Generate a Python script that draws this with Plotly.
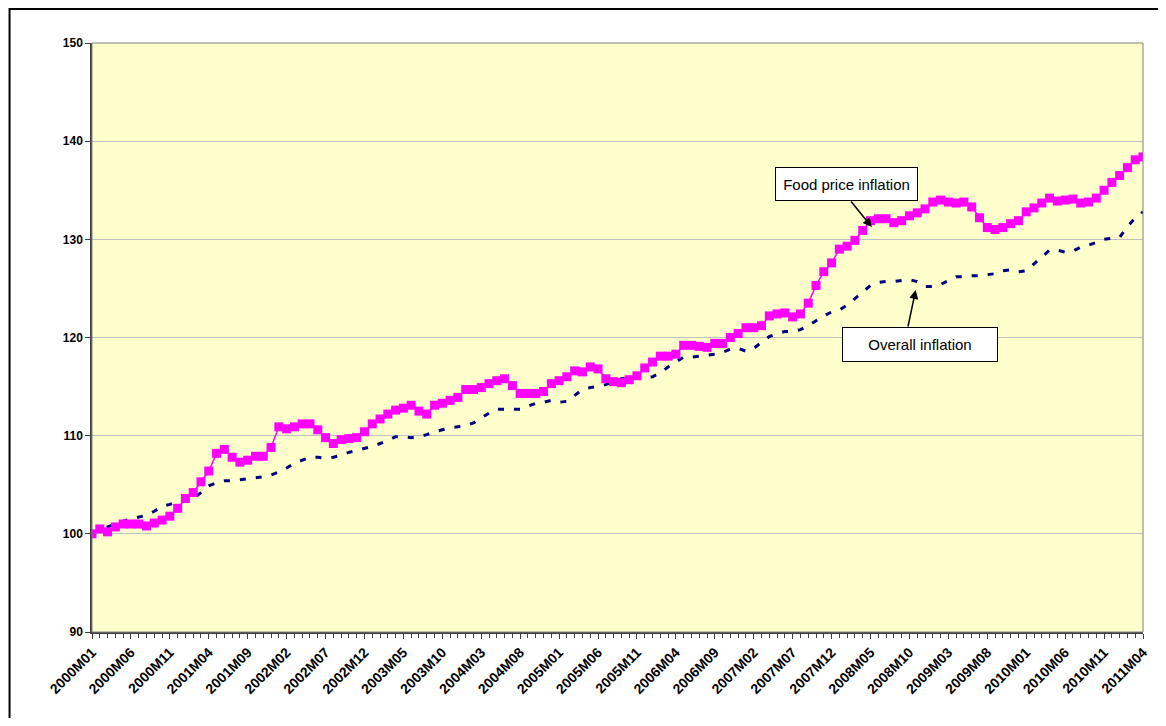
import plotly.graph_objects as go

# Monthly index, 2000M01 = 100 ... 2011M04
months = []
for yr in range(2000, 2012):
    for m in range(1, 13):
        months.append(f"{yr}M{m:02d}")
months = months[:136]

food = [100.0, 100.5, 100.2, 100.7, 101.0, 101.0, 101.0, 100.8, 101.1, 101.4,
        101.8, 102.6, 103.6, 104.2, 105.3, 106.4, 108.2, 108.6, 107.8, 107.3,
        107.5, 107.9, 107.9, 108.8, 110.9, 110.7, 110.9, 111.2, 111.2, 110.6,
        109.8, 109.2, 109.6, 109.7, 109.8, 110.4, 111.2, 111.7, 112.2, 112.6,
        112.8, 113.1, 112.5, 112.2, 113.1, 113.3, 113.6, 113.9, 114.7, 114.7,
        114.9, 115.3, 115.6, 115.8, 115.1, 114.3, 114.3, 114.3, 114.5, 115.3,
        115.6, 116.0, 116.6, 116.5, 117.0, 116.8, 115.8, 115.5, 115.4, 115.7,
        116.1, 116.9, 117.5, 118.1, 118.1, 118.3, 119.2, 119.2, 119.1, 119.0,
        119.4, 119.4, 120.0, 120.4, 121.0, 121.0, 121.2, 122.2, 122.4, 122.5,
        122.1, 122.4, 123.5, 125.3, 126.7, 127.6, 129.0, 129.3, 129.9, 130.9,
        131.9, 132.1, 132.1, 131.7, 131.9, 132.4, 132.7, 133.1, 133.8, 134.0,
        133.8, 133.7, 133.8, 133.3, 132.2, 131.2, 131.0, 131.2, 131.6, 131.9,
        132.8, 133.2, 133.7, 134.2, 133.9, 134.0, 134.1, 133.7, 133.8, 134.2,
        135.0, 135.8, 136.5, 137.3, 138.1, 138.4]

overall = [100.0, 100.4, 100.7, 101.0, 101.3, 101.5, 101.7, 101.9, 102.3, 102.8,
           103.0, 103.3, 103.5, 103.6, 104.2, 104.9, 105.2, 105.4, 105.4, 105.5,
           105.6, 105.7, 105.8, 106.0, 106.3, 106.7, 107.2, 107.5, 107.8, 107.8,
           107.7, 107.8, 108.0, 108.3, 108.5, 108.7, 108.9, 109.2, 109.5, 109.9,
           109.9, 109.8, 109.9, 110.1, 110.4, 110.6, 110.8, 110.9, 111.0, 111.3,
           111.8, 112.3, 112.7, 112.7, 112.7, 112.7, 113.0, 113.3, 113.4, 113.6,
           113.4, 113.5, 114.1, 114.7, 114.9, 115.0, 115.2, 115.5, 115.8, 115.9,
           115.9, 115.9, 116.0, 116.4, 117.0, 117.5, 118.0, 118.0, 118.1, 118.2,
           118.3, 118.5, 118.8, 118.9, 118.6, 118.9, 119.5, 120.1, 120.4, 120.6,
           120.6, 120.8, 121.2, 121.7, 122.2, 122.6, 122.8, 123.3, 124.0, 124.6,
           125.3, 125.6, 125.7, 125.7, 125.8, 125.9, 125.7, 125.2, 125.2, 125.4,
           125.8, 126.2, 126.2, 126.3, 126.3, 126.4, 126.5, 126.8, 126.9, 126.7,
           126.8, 127.5, 128.2, 128.9, 128.9, 128.7, 128.8, 129.2, 129.4, 129.7,
           130.0, 130.1, 130.2, 131.3, 132.2, 132.8]

y_ticks = [90, 100, 110, 120, 130, 140, 150]
label_step = 5

xs = list(range(len(months)))
tick_pos = xs[::label_step]
tick_txt = months[::label_step]

FONT = "Arial, Liberation Sans, sans-serif"
W, H = 1150, 710
ML, MR, MT, MB = 84, 8, 35, 86
PW, PH = W - ML - MR, H - MT - MB

fig = go.Figure()
fig.add_trace(go.Scatter(
    x=xs, y=overall, name="Overall inflation", mode="lines",
    line=dict(color="#000080", width=3, dash="6px,10px"),
    hoverinfo="skip"))
fig.add_trace(go.Scatter(
    x=xs, y=food, name="Food price inflation", mode="lines+markers",
    line=dict(color="#FF00FF", width=1.5),
    marker=dict(symbol="square", size=9, color="#FF00FF"),
    text=months, hovertemplate="%{text}: %{y}<extra></extra>"))

fig.update_layout(
    width=W, height=H,
    margin=dict(l=ML, r=MR, t=MT, b=MB),
    paper_bgcolor="white", plot_bgcolor="#FFFFCC",
    showlegend=False,
    font=dict(family=FONT, color="black"),
)

fig.update_xaxes(
    range=[0, len(months) - 1],
    tickmode="array", tickvals=tick_pos, ticktext=tick_txt,
    tickangle=-45, tickfont=dict(family=FONT, size=14, weight="bold"),
    ticks="outside", ticklen=5, tickcolor="#404040",
    minor=dict(dtick=1, tick0=0, ticks="outside", ticklen=4, tickcolor="#404040", showgrid=False),
    showgrid=False, zeroline=False,
    showline=True, linecolor="#404040", linewidth=1.5,
)
fig.update_yaxes(
    range=[90, 150], tickvals=y_ticks,
    tickfont=dict(family=FONT, size=12, weight="bold"),
    ticks="outside", ticklen=5, tickcolor="#404040",
    showgrid=True, gridcolor="#C0C0C0", gridwidth=1,
    zeroline=False,
    showline=True, linecolor="#404040", linewidth=1.5,
)

# plot-area frame (top/right) and outer chart border
fig.add_shape(type="rect", xref="paper", yref="paper", x0=0, y0=0, x1=1, y1=1,
              line=dict(color="#808080", width=1), layer="above")
fig.add_shape(type="rect", xref="paper", yref="paper",
              x0=-(ML - 1) / PW, y0=-0.5, x1=1.3, y1=1 + (MT - 1) / PH,
              line=dict(color="black", width=2), layer="above")

# callout boxes
box_style = dict(xref="x", yref="y", showarrow=False, xanchor="center", yanchor="middle",
                 font=dict(family=FONT, size=15, color="black"),
                 bgcolor="white", bordercolor="black", borderwidth=1, borderpad=7)
fig.add_annotation(x=96.9, y=135.64, text="Food price inflation", width=127, height=18, **box_style)
fig.add_annotation(x=106.3, y=119.3, text="Overall inflation", width=140, height=19, **box_style)

# callout arrows
arrow_style = dict(xref="x", yref="y", text="", showarrow=True, arrowhead=2,
                   arrowsize=1.2, arrowwidth=1.5, arrowcolor="black")
fig.add_annotation(x=100.17, y=131.25, ax=-22, ay=-27, **arrow_style)
fig.add_annotation(x=105.8, y=124.84, ax=-8, ay=38, **arrow_style)

fig.write_html("out.html")
